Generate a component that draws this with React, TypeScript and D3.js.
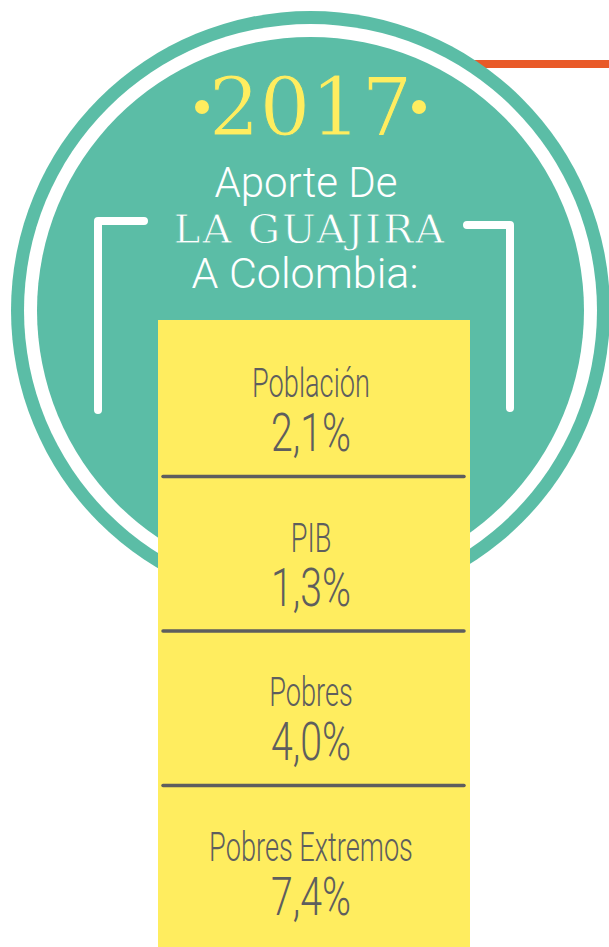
import * as d3 from 'd3';

const titleYear = '2017';
const headingLines = ['Aporte De', 'LA GUAJIRA', 'A Colombia:'];
const rowLabels = ['Población', 'PIB', 'Pobres', 'Pobres Extremos'];
const rowValues = [2.1, 1.3, 4.0, 7.4];

const W = 609;
const H = 947;
const TEAL = '#5bbda6';
const YELLOW = '#ffed5f';
const ORANGE = '#e95a28';
const GREY = '#5e5e5e';

const esLocale = d3.formatLocale({ decimal: ',', thousands: '.', grouping: [3], currency: ['', ''] });
const fmt = esLocale.format('.1f');

const cx = 310.5;
const cy = 310.5;
const box = { x0: 158, x1: 470, y0: 320, y1: 947 };

export default function App() {
  const rowY = d3.scaleBand<string>().domain(rowLabels).range([box.y0 + 2, 940]).padding(0);
  const textX = 311;

  return (
    <svg
      width={W}
      height={H}
      viewBox={`0 0 ${W} ${H}`}
      style={{ position: 'absolute', left: 0, top: 0, display: 'block', background: '#fff' }}
    >
      {/* orange bar behind the badge */}
      <line x1={400} x2={W} y1={64} y2={64} stroke={ORANGE} strokeWidth={8} />

      {/* badge */}
      <circle cx={cx} cy={cy} r={299.5} fill={TEAL} />
      <circle cx={cx} cy={cy} r={286.5} fill="#fff" />
      <circle cx={cx} cy={cy} r={273.5} fill={TEAL} />

      {/* brackets */}
      <path
        d="M144,221 L98,221 L98,410"
        fill="none"
        stroke="#fff"
        strokeWidth={8}
        strokeLinecap="round"
        strokeLinejoin="round"
      />
      <path
        d="M467,225 L510,225 L510,408"
        fill="none"
        stroke="#fff"
        strokeWidth={8}
        strokeLinecap="round"
        strokeLinejoin="round"
      />

      {/* year */}
      <circle cx={202} cy={107} r={7} fill={YELLOW} />
      <circle cx={419} cy={107} r={7} fill={YELLOW} />
      <text
        x={cx}
        y={135}
        textAnchor="middle"
        fontFamily="'DejaVu Serif', serif"
        fontSize={80}
        fill={YELLOW}
        stroke={TEAL}
        strokeWidth={1}
      >
        {titleYear}
      </text>

      {/* heading */}
      <text x={306} y={197} textAnchor="middle" fontFamily="Roboto" fontWeight={300} fontSize={42} fill="#fff">
        {headingLines[0]}
      </text>
      <text
        x={310}
        y={243}
        textAnchor="middle"
        fontFamily="'DejaVu Serif', serif"
        fontSize={40}
        letterSpacing={2}
        fill="#fff"
        stroke={TEAL}
        strokeWidth={0.8}
      >
        {headingLines[1]}
      </text>
      <text x={305} y={288} textAnchor="middle" fontFamily="Roboto" fontWeight={300} fontSize={43} fill="#fff">
        {headingLines[2]}
      </text>

      {/* yellow table */}
      <rect x={box.x0} y={box.y0} width={box.x1 - box.x0} height={box.y1 - box.y0} fill={YELLOW} />

      {rowLabels.slice(1).map((lab) => (
        <line
          key={`div-${lab}`}
          x1={163}
          x2={464}
          y1={rowY(lab)}
          y2={rowY(lab)}
          stroke={GREY}
          strokeWidth={3.5}
          strokeLinecap="round"
        />
      ))}

      {rowLabels.map((lab, i) => {
        const y0 = rowY(lab) as number;
        return (
          <g key={lab}>
            <text
              transform={`translate(${textX},${y0 + 75}) scale(0.68,1)`}
              textAnchor="middle"
              fontFamily="Roboto"
              fontWeight={300}
              fontSize={40}
              fill={GREY}
            >
              {lab}
            </text>
            <text
              transform={`translate(${textX},${y0 + 129}) scale(0.74,1)`}
              textAnchor="middle"
              fontFamily="Roboto"
              fontWeight={300}
              fontSize={53}
              fill={GREY}
            >
              {`${fmt(rowValues[i])}%`}
            </text>
          </g>
        );
      })}
    </svg>
  );
}
